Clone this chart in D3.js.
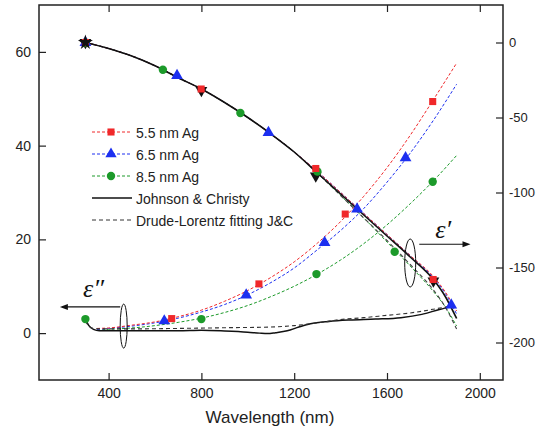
<!DOCTYPE html>
<html><head><meta charset="utf-8">
<script src="https://cdn.jsdelivr.net/npm/d3@7"></script>
<style>
body{margin:0;background:#fff;}
svg{display:block;font-family:"Liberation Sans",Arial,sans-serif;}
</style></head>
<body><svg id="c" width="538" height="432"></svg>
<script>
// ---- data ----
const lam = [350,400,500,600,700,800,900,1000,1100,1200,1300,1400,1500,1600,1700,1800,1900];
// epsilon'' (left axis) dashed fits
const red2   = [1.0,1.1,1.7,2.4,3.5,4.9,6.8,9.1,11.9,15.2,19.2,23.8,29.2,35.3,42.2,49.8,57.6];
const blue2  = [0.8,1.0,1.5,2.2,3.2,4.5,6.1,8.2,10.8,13.9,17.8,21.9,26.6,32.2,38.4,45.4,53.1];
const green2 = [0.6,0.8,1.1,1.6,2.3,3.2,4.4,5.9,7.8,10.0,12.6,15.6,19.1,23.1,27.6,32.5,37.9];
// Johnson & Christy epsilon'' (solid) and Drude-Lorentz fit (dashed)
const jcLam2 = [300,315,335,360,400,500,600,700,800,900,1000,1050,1085,1120,1170,1220,1270,1350,1440,1550,1660,1750,1830,1875];
const jc2    = [3.0,1.6,0.8,0.5,0.5,0.5,0.5,0.5,0.6,0.45,0.2,0.0,-0.1,0.1,0.5,1.3,2.0,2.5,2.8,3.0,3.3,4.0,5.1,5.6];
const dlLam2 = [300,315,335,360,500,700,900,1100,1200,1300,1400,1500,1600,1700,1800,1875];
const dl2    = [2.6,1.5,1.0,0.9,0.9,1.0,1.15,1.3,1.6,2.2,2.9,3.3,3.8,4.3,5.1,5.8];
// epsilon' (right axis)
const lam1   = [300,400,500,600,700,800,900,1000,1100,1200,1300,1400,1500,1600,1700,1800,1850,1900];
const jc1    = [0,-4,-9,-15.5,-23.5,-31,-40,-50,-61,-73,-87,-101,-115,-129,-143,-158,-169,-184];
const red1   = [0,-4,-9,-15.5,-23.5,-31,-40,-50,-61,-73,-86,-100,-114,-128,-142,-156,-166,-179];
const blue1  = [0,-4,-9,-15.5,-23.5,-31,-40,-50,-61,-73,-86,-100,-114,-128,-142,-157,-167,-181];
const green1 = [0,-4,-9,-15.5,-23.5,-31,-40,-50,-61,-73,-87,-102,-117,-133,-149,-166,-176,-189];
const dl1    = [0,-4,-9,-15.5,-23.5,-31,-40,-50,-61,-73,-87,-102,-117,-132,-148,-165,-176,-191];
// markers [wavelength, value]
const redM2   = [[672,3.1],[1048,10.5],[1420,25.4],[1797,49.4]];
const blueM2  = [[640,2.6],[993,8.1],[1331,19.3],[1680,37.4]];
const greenM2 = [[300,3.0],[800,3.0],[1296,12.6],[1797,32.3]];
const redM1   = [[300,0],[799,-31],[1293,-84],[1799,-158]];
const blueM1  = [[300,0],[695,-22],[1089,-60],[1471,-111],[1877,-175]];
const greenM1 = [[300,0],[634,-18.2],[968,-47],[1300,-86],[1633,-139.5]];
const blackM1 = [[300,0],[800,-32],[1293,-89],[1800,-159]];
// ticks
const xTicks = [400,800,1200,1600,2000];
const yLTicks = [0,20,40,60];
const yRTicks = [0,-50,-100,-150,-200];
const legendLabels = ["5.5 nm Ag","6.5 nm Ag","8.5 nm Ag","Johnson & Christy","Drude-Lorentz fitting J&C"];

const RED="#f0282a", BLUE="#1c2ff0", GREEN="#1c9a2a";

const svg = d3.select("#c");
const L=39, R=503, T=5, B=380;
const x = d3.scaleLinear().domain([100,2100]).range([L,R]);
const yL = d3.scaleLinear().domain([-10,70]).range([B,T]);
const yR = d3.scaleLinear().domain([-225,25]).range([B,T]);
const plain = d => String(d);

// frame
svg.append("rect").attr("x",L).attr("y",T).attr("width",R-L).attr("height",B-T)
  .attr("fill","none").attr("stroke","#222").attr("stroke-width",1.5);

function styleAxis(fs){ return g => { g.select(".domain").remove(); g.selectAll("line").attr("stroke","#222").attr("stroke-width",1.2);
  g.selectAll("text").attr("fill","#222").style("font-size",fs).style("font-family","Liberation Sans, Arial, sans-serif"); }; }

svg.append("g").attr("transform",`translate(0,${B})`)
  .call(d3.axisBottom(x).tickValues(xTicks).tickFormat(plain).tickSizeInner(-7).tickSizeOuter(0).tickPadding(8))
  .call(styleAxis("14px"));
svg.append("g").attr("transform",`translate(0,${T})`)
  .call(d3.axisTop(x).tickValues(xTicks).tickSizeInner(-7).tickSizeOuter(0).tickFormat(""))
  .call(styleAxis("14px"));
svg.append("g").attr("transform",`translate(${L},0)`)
  .call(d3.axisLeft(yL).tickValues(yLTicks).tickFormat(plain).tickSizeInner(-7).tickSizeOuter(0).tickPadding(8))
  .call(styleAxis("14px"));
svg.append("g").attr("transform",`translate(${R},0)`)
  .call(d3.axisRight(yR).tickValues(yRTicks).tickFormat(plain).tickSizeInner(-7).tickSizeOuter(0).tickPadding(6))
  .call(styleAxis("13px"));

svg.append("text").attr("x",270).attr("y",423).attr("text-anchor","middle")
  .style("font-size","17px").attr("fill","#222").text("Wavelength (nm)");

const plot = svg.append("g");
svg.append("clipPath").attr("id","clip").append("rect").attr("x",L).attr("y",T).attr("width",R-L).attr("height",B-T);
plot.attr("clip-path","url(#clip)");

function drawLine(xs, ys, sc, color, dash, w){
  const pts = xs.map((v,i)=>[v,ys[i]]);
  plot.append("path").datum(pts)
    .attr("d", d3.line().x(d=>x(d[0])).y(d=>sc(d[1])).curve(d3.curveMonotoneX))
    .attr("fill","none").attr("stroke",color).attr("stroke-width",w||1)
    .attr("stroke-dasharray",dash||null);
}
// epsilon'' dashed fits
drawLine(lam, green2, yL, GREEN, "3,2");
drawLine(lam, blue2, yL, BLUE, "3,2");
drawLine(lam, red2, yL, RED, "3,2");
// epsilon' dashed fits
drawLine(lam1, green1, yR, GREEN, "3,2");
drawLine(lam1, dl1, yR, "#444", "4,3", 1.1);
drawLine(lam1, blue1, yR, BLUE, "3,2");
drawLine(lam1, red1, yR, RED, "3,2");
// J&C solid
drawLine(lam1, jc1, yR, "#111", null, 1.6);
drawLine(jcLam2, jc2, yL, "#111", null, 1.5);
drawLine(dlLam2, dl2, yL, "#333", "4,3", 1.1);

// markers
function markers(data, sc, type, color, size){
  plot.selectAll(null).data(data).enter().append("path")
    .attr("transform",d=>`translate(${x(d[0])},${sc(d[1])})${size<0?" rotate(180)":""}`)
    .attr("d", d3.symbol().type(type).size(Math.abs(size)))
    .attr("fill",color);
}
markers(blackM1, yR, d3.symbolTriangle, "#111", -60);
markers(greenM2, yL, d3.symbolCircle, GREEN, 55);
markers(blueM2, yL, d3.symbolTriangle, BLUE, 60);
markers(redM2, yL, d3.symbolSquare, RED, 50);
markers(greenM1, yR, d3.symbolCircle, GREEN, 55);
markers(blueM1, yR, d3.symbolTriangle, BLUE, 60);
markers(redM1, yR, d3.symbolSquare, RED, 50);
markers([[300,0]], yR, d3.symbolStar, "#111", 70);

// legend
const legColors=[RED,BLUE,GREEN,"#111","#333"];
const legDash=["3,2","3,2","3,2",null,"4,3"];
const legSym=[d3.symbolSquare,d3.symbolTriangle,d3.symbolCircle,null,null];
const legY=[137,159,181,203,225];
const lg = svg.append("g");
legendLabels.forEach((t,i)=>{
  lg.append("line").attr("x1",92).attr("x2",132).attr("y1",legY[i]-5).attr("y2",legY[i]-5)
    .attr("stroke",legColors[i]).attr("stroke-width",i===3?1.5:1).attr("stroke-dasharray",legDash[i]);
  if(legSym[i]) lg.append("path").attr("transform",`translate(111,${legY[i]-5})`)
    .attr("d",d3.symbol().type(legSym[i]).size(i===0?50:55)).attr("fill",legColors[i]);
  lg.append("text").attr("x",136).attr("y",legY[i]+1).style("font-size","14px").attr("fill","#222").text(t);
});

// annotations
const ann = svg.append("g").attr("stroke","#111").attr("fill","none");
// epsilon''
ann.append("ellipse").attr("cx",x(465)).attr("cy",yL(1.5)).attr("rx",3.5).attr("ry",22).attr("stroke-width",1);
const a2y = yL(5.6);
ann.append("line").attr("x1",x(450)).attr("x2",x(200)).attr("y1",a2y).attr("y2",a2y).attr("stroke-width",1.2);
ann.append("path").attr("d",`M${x(190)},${a2y} l8,-3 l0,6 z`).attr("fill","#111").attr("stroke","none");
svg.append("text").attr("x",x(290)).attr("y",yL(7.8)).style("font-family","Liberation Serif, serif")
  .style("font-style","italic").style("font-size","26px").attr("fill","#111").text("\u03b5\u2033");
// epsilon'
ann.append("ellipse").attr("cx",x(1700)).attr("cy",yR(-147)).attr("rx",5.5).attr("ry",24).attr("stroke-width",1);
const a1y = yR(-134.5);
ann.append("line").attr("x1",x(1739)).attr("x2",x(1945)).attr("y1",a1y).attr("y2",a1y).attr("stroke-width",1.2);
ann.append("path").attr("d",`M${x(1960)},${a1y} l-8,-3 l0,6 z`).attr("fill","#111").attr("stroke","none");
svg.append("text").attr("x",x(1808)).attr("y",yR(-130)).style("font-family","Liberation Serif, serif")
  .style("font-style","italic").style("font-size","26px").attr("fill","#111").text("\u03b5\u2032");
</script></body></html>
